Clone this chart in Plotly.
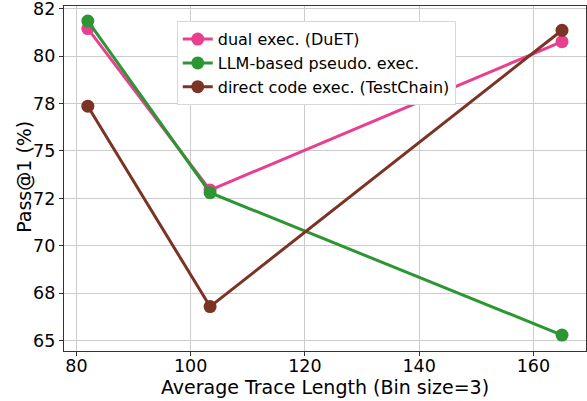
import plotly.graph_objects as go

x_vals = [82, 103.4, 165]
dual = [81.45, 72.94, 80.76]
llm = [81.85, 72.8, 65.3]
direct = [77.36, 66.8, 81.36]

names = ["dual exec. (DuET)", "LLM-based pseudo. exec.", "direct code exec. (TestChain)"]
colors = ["#e8408f", "#2b9632", "#7a3324"]

y_tickvals = [65, 67.5, 70, 72.5, 75, 77.5, 80, 82.5]
y_ticktext = ["65", "68", "70", "72", "75", "78", "80", "82"]
x_tickvals = [80, 100, 120, 140, 160]

fig = go.Figure()
for name, ys, c in zip(names, [dual, llm, direct], colors):
    fig.add_trace(go.Scatter(
        x=x_vals, y=ys, mode="lines+markers", name=name,
        line=dict(color=c, width=3),
        marker=dict(color=c, size=13),
    ))

font = "DejaVu Sans"
fig.update_layout(
    width=587, height=401,
    margin=dict(l=64, r=1, t=6, b=50),
    paper_bgcolor="white", plot_bgcolor="white",
    font=dict(family=font, color="black"),
    legend=dict(
        x=0.216, y=0.956, xanchor="left", yanchor="top",
        bgcolor="white", bordercolor="#d8d8d8", borderwidth=1,
        font=dict(size=16, family=font),
        tracegroupgap=0,
    ),
    showlegend=True,
)
fig.add_annotation(
    text="Pass@1 (%)", textangle=-90, showarrow=False,
    xref="paper", yref="paper", x=0, y=0.505, xanchor="center", yanchor="middle",
    xshift=-40, font=dict(size=19, family=font, color="black"),
)
fig.update_xaxes(
    range=[77.83, 169.2], tickvals=x_tickvals, automargin=False,
    showgrid=True, gridcolor="#cccccc", gridwidth=1,
    showline=True, linecolor="#333333", linewidth=1.2, mirror=True,
    ticks="outside", ticklen=4, tickcolor="#333333",
    tickfont=dict(size=17.5, family=font), ticklabeloverflow="allow",
    ticklabelstandoff=-5,
    title=dict(text="Average Trace Length (Bin size=3)", font=dict(size=19, family=font), standoff=0),
    zeroline=False,
)
fig.update_yaxes(
    range=[64.46, 82.64], tickvals=y_tickvals, ticktext=y_ticktext, automargin=False,
    showgrid=True, gridcolor="#cccccc", gridwidth=1,
    showline=True, linecolor="#333333", linewidth=1.2, mirror=True,
    ticks="outside", ticklen=4, tickcolor="#333333",
    tickfont=dict(size=17.5, family=font), ticklabeloverflow="allow",
    zeroline=False,
)

fig.write_html("out.html", config={"displayModeBar": False},
               post_script="document.body.style.margin='0';document.body.style.overflow='hidden';")
